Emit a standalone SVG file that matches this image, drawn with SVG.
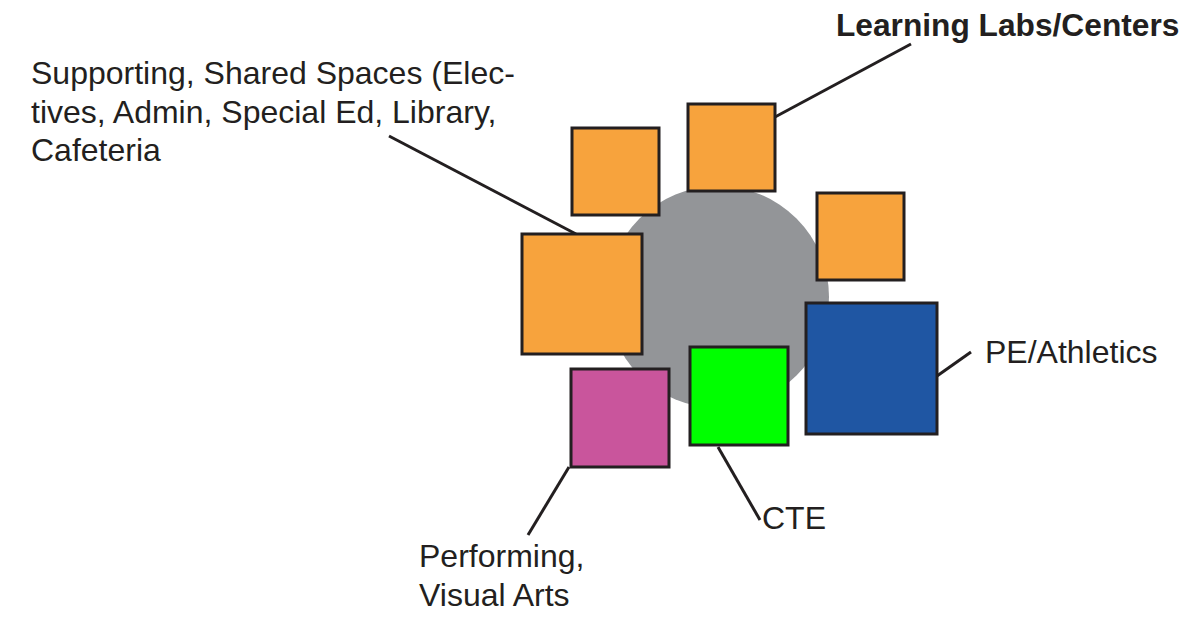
<svg xmlns="http://www.w3.org/2000/svg" width="1192" height="624" viewBox="0 0 1192 624">
<style>
.box{stroke:#231f20;stroke-width:3}
.orange{fill:#f7a33d}
.lbl{font-family:"Liberation Sans",Arial,sans-serif;font-size:32px;fill:#231f20}
.bold{font-weight:bold;font-size:31.7px}
.conn line{stroke:#231f20;stroke-width:3;fill:none}
</style>
<rect width="1192" height="624" fill="#ffffff"/>
<circle id="hub" cx="718" cy="297" r="111" fill="#939598"/>
<g id="connectors" class="conn">
<line x1="775" y1="117" x2="911" y2="44"/>
<line x1="389" y1="136" x2="576" y2="234"/>
<line x1="937" y1="376" x2="971" y2="352"/>
<line x1="569" y1="467" x2="528" y2="535"/>
<line x1="718" y1="447" x2="760" y2="520"/>
</g>
<g id="lab1"><rect class="box orange" x="572" y="128" width="87" height="87"/></g>
<g id="lab2"><rect class="box orange" x="688" y="104" width="87" height="87"/></g>
<g id="lab3"><rect class="box orange" x="817" y="193" width="87" height="87"/></g>
<g id="shared"><rect class="box orange" x="522" y="234" width="120" height="120"/></g>
<g id="pe"><rect class="box" x="806" y="303" width="131" height="131" fill="#1f56a3"/></g>
<g id="cte"><rect class="box" x="690" y="347" width="98" height="98" fill="#00ff00"/></g>
<g id="arts"><rect class="box" x="571" y="369" width="98" height="98" fill="#c9559c"/></g>
<g id="labels">
<text class="lbl bold" x="836" y="36">Learning Labs/Centers</text>
<text class="lbl" x="31" y="84">Supporting, Shared Spaces (Elec-</text>
<text class="lbl" x="31" y="122.5">tives, Admin, Special Ed, Library,</text>
<text class="lbl" x="31" y="161">Cafeteria</text>
<text class="lbl" x="985" y="363">PE/Athletics</text>
<text class="lbl" x="762" y="529">CTE</text>
<text class="lbl" x="419" y="567">Performing,</text>
<text class="lbl" x="419" y="606">Visual Arts</text>
</g>
</svg>
